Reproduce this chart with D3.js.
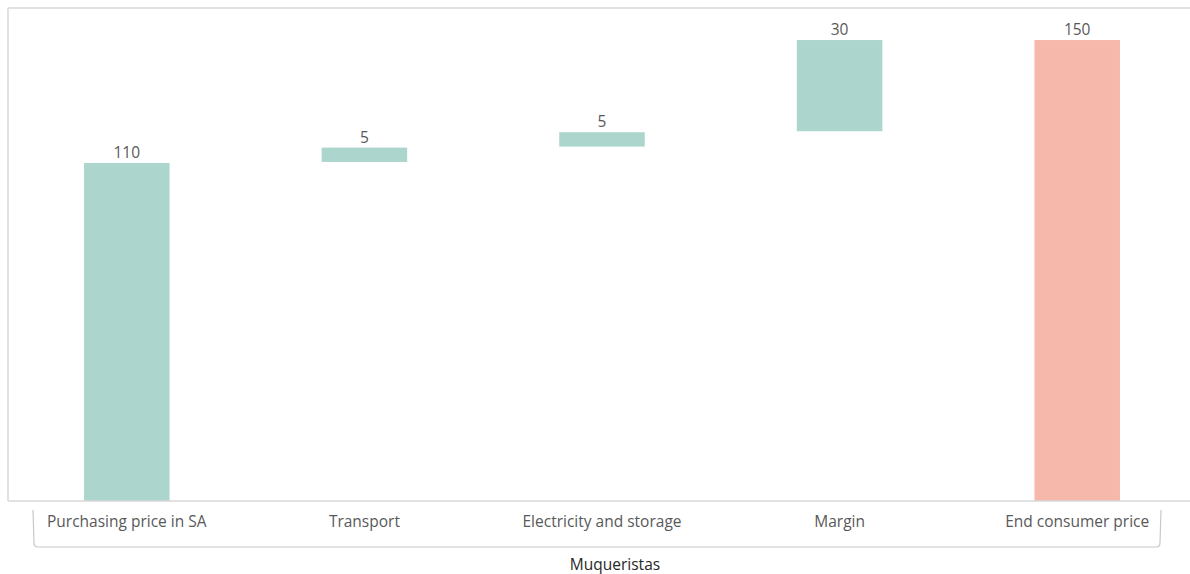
<!DOCTYPE html>
<html>
<head>
<meta charset="utf-8">
<script src="https://cdn.jsdelivr.net/npm/d3@7"></script>
<style>
  html, body { margin: 0; padding: 0; background: #fff; }
  svg { display: block; }
</style>
</head>
<body>
<svg id="chart" width="1190" height="574"></svg>
<script>
// Price build-up for muqueristas (waterfall)
const categories = ["Purchasing price in SA", "Transport", "Electricity and storage", "Margin", "End consumer price"];
const values = [110, 5, 5, 30, 150];
const kinds = ["start", "step", "step", "step", "total"];
const groupLabel = "Muqueristas";

const svg = d3.select("#chart");
const W = 1190, H = 574;
const font = "'Open Sans', 'Noto Sans', sans-serif";

// Running totals for floating bars
let run = 0;
const bars = categories.map((c, i) => {
  let y0, y1;
  if (kinds[i] === "total") { y0 = 0; y1 = values[i]; run = values[i]; }
  else { y0 = run; y1 = run + values[i]; run = y1; }
  return { cat: c, value: values[i], kind: kinds[i], y0, y1 };
});

const x = d3.scaleBand().domain(categories).range([8, 1196]).paddingInner(0.64).paddingOuter(0.32);
const y = d3.scaleLinear().domain([0, 160]).range([501, 9.3]);

// plot frame (top and left edges)
svg.append("line").attr("x1", 8).attr("x2", W).attr("y1", 8).attr("y2", 8)
  .attr("stroke", "#d9d9d9").attr("stroke-width", 1.5);
svg.append("line").attr("x1", 8).attr("x2", 8).attr("y1", 8).attr("y2", 501)
  .attr("stroke", "#d9d9d9").attr("stroke-width", 1.5);

// bars
svg.selectAll("rect.bar").data(bars).enter().append("rect")
  .attr("class", "bar")
  .attr("x", d => x(d.cat))
  .attr("width", x.bandwidth())
  .attr("y", d => y(d.y1))
  .attr("height", d => y(d.y0) - y(d.y1) - (d.kind === "step" ? 1 : 0))
  .attr("fill", d => d.kind === "total" ? "#f5b8ab" : "#acd6cd");

// value labels
svg.selectAll("text.val").data(bars).enter().append("text")
  .attr("class", "val")
  .attr("x", d => x(d.cat) + x.bandwidth() / 2)
  .attr("y", d => y(d.y1) - 5)
  .attr("text-anchor", "middle")
  .attr("font-family", font).attr("font-size", 15.5)
  .attr("fill", "#595959")
  .text(d => d.value);

// baseline axis
const axis = svg.append("g").attr("transform", "translate(0,501)")
  .call(d3.axisBottom(x).tickSize(0).tickPadding(15));
axis.select(".domain").attr("d", `M8,0H${W}`).attr("stroke", "#d9d9d9").attr("stroke-width", 1.5);
axis.selectAll(".tick text")
  .attr("font-family", font).attr("font-size", 15.5).attr("fill", "#595959");

// group bracket under the categories
const bx0 = 33, bx1 = 1161, by0 = 510, by1 = 547, r = 4;
svg.append("path")
  .attr("d", `M${bx0},${by0} L${bx0 + 1},${by1 - r} Q${bx0 + 1},${by1} ${bx0 + r + 1},${by1} L${bx1 - r - 1},${by1} Q${bx1 - 1},${by1} ${bx1 - 1},${by1 - r} L${bx1},${by0}`)
  .attr("fill", "none").attr("stroke", "#c8c8c8").attr("stroke-width", 1.2);

svg.append("text")
  .attr("x", 615).attr("y", 570)
  .attr("text-anchor", "middle")
  .attr("font-family", font).attr("font-size", 15.5)
  .attr("fill", "#262626")
  .text(groupLabel);
</script>
</body>
</html>
